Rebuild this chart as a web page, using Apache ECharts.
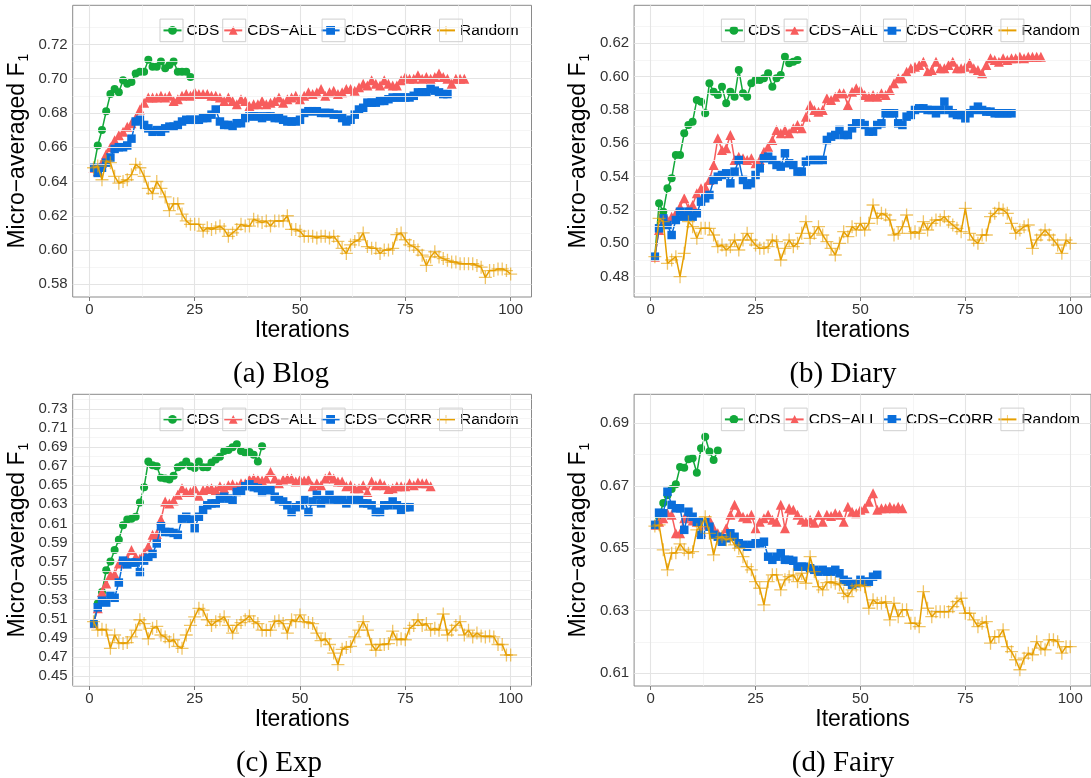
<!DOCTYPE html>
<html>
<head>
<meta charset="utf-8">
<title>Micro-averaged F1 per iteration</title>
<script src="https://cdn.jsdelivr.net/npm/echarts@6/dist/echarts.min.js"></script>
<style>
html,body{margin:0;padding:0;background:#fff;}
#main{width:1091px;height:778px;}
</style>
</head>
<body>
<div id="main"></div>
<script>
// series names (legend uses the real minus sign)
var methodNames = ['CDS', 'CDS\u2212ALL', 'CDS\u2212CORR', 'Random'];

// x axis ticks, shared by all panels
var iterTicks = [0, 25, 50, 75, 100];
var iterMinor = [12.5, 37.5, 62.5, 87.5];

// y axis ticks per panel
var blogTicks  = [0.58, 0.60, 0.62, 0.64, 0.66, 0.68, 0.70, 0.72];
var blogMinor  = [0.59, 0.61, 0.63, 0.65, 0.67, 0.69, 0.71, 0.73];
var diaryTicks = [0.48, 0.50, 0.52, 0.54, 0.56, 0.58, 0.60, 0.62];
var diaryMinor = [0.47, 0.49, 0.51, 0.53, 0.55, 0.57, 0.59, 0.61, 0.63];
var expTicks   = [0.45, 0.47, 0.49, 0.51, 0.53, 0.55, 0.57, 0.59, 0.61, 0.63, 0.65, 0.67, 0.69, 0.71, 0.73];
var expMinor   = [0.44, 0.46, 0.48, 0.50, 0.52, 0.54, 0.56, 0.58, 0.60, 0.62, 0.64, 0.66, 0.68, 0.70, 0.72, 0.74];
var fairyTicks = [0.61, 0.63, 0.65, 0.67, 0.69];
var fairyMinor = [0.62, 0.64, 0.66, 0.68];

// (a) Blog -- values from iteration 1
var blogCDS = [0.648,0.661,0.670,0.681,0.691,0.694,0.692,0.699,0.697,0.698,0.703,0.704,0.704,0.711,0.707,0.707,0.710,0.706,0.708,0.710,0.704,0.704,0.704,0.701];
var blogALL = [0.648,0.646,0.651,0.656,0.660,0.664,0.667,0.669,0.672,0.674,
	0.677,0.682,0.686,0.689,0.689,0.689,0.690,0.689,0.690,0.687,
	0.688,0.690,0.691,0.690,0.692,0.691,0.691,0.691,0.690,0.690,
	0.689,0.687,0.689,0.687,0.685,0.688,0.687,0.684,0.685,0.685,
	0.687,0.685,0.686,0.687,0.689,0.686,0.688,0.689,0.690,0.688,
	0.690,0.692,0.691,0.692,0.694,0.690,0.692,0.693,0.691,0.692,
	0.694,0.694,0.693,0.695,0.697,0.696,0.699,0.697,0.696,0.699,
	0.697,0.696,0.696,0.699,0.701,0.700,0.700,0.702,0.700,0.701,
	0.700,0.701,0.703,0.701,0.700,0.697,0.700,0.700,0.700];
var blogCORR = [0.648,0.645,0.648,0.651,0.654,0.659,0.660,0.660,0.661,0.665,
	0.675,0.676,0.673,0.671,0.669,0.670,0.669,0.671,0.672,0.672,
	0.673,0.675,0.676,0.676,0.676,0.676,0.677,0.677,0.679,0.682,
	0.675,0.673,0.673,0.672,0.674,0.674,0.677,0.678,0.678,0.678,
	0.677,0.678,0.678,0.677,0.677,0.676,0.675,0.675,0.675,0.676,
	0.680,0.681,0.681,0.681,0.680,0.680,0.680,0.679,0.679,0.677,
	0.675,0.676,0.679,0.682,0.683,0.686,0.686,0.686,0.687,0.687,
	0.688,0.689,0.689,0.689,0.689,0.689,0.690,0.692,0.692,0.692,
	0.694,0.693,0.692,0.691,0.691];
var blogRandom = [0.648,0.649,0.641,0.652,0.651,0.643,0.639,0.640,0.641,0.644,
	0.650,0.648,0.643,0.636,0.633,0.640,0.636,0.631,0.623,0.627,
	0.627,0.621,0.617,0.615,0.615,0.615,0.611,0.613,0.612,0.613,
	0.614,0.612,0.608,0.610,0.612,0.615,0.614,0.614,0.618,0.617,
	0.616,0.617,0.614,0.617,0.617,0.617,0.620,0.612,0.612,0.611,
	0.608,0.608,0.608,0.607,0.608,0.608,0.607,0.608,0.605,0.601,
	0.598,0.603,0.605,0.606,0.610,0.602,0.601,0.601,0.598,0.600,
	0.600,0.601,0.609,0.610,0.606,0.603,0.602,0.600,0.597,0.591,
	0.596,0.599,0.596,0.595,0.594,0.593,0.593,0.592,0.592,0.592,
	0.592,0.591,0.590,0.584,0.588,0.588,0.589,0.589,0.588,0.586];

// (b) Diary
var diaryCDS = [0.492,0.524,0.519,0.533,0.539,0.553,0.553,0.566,0.571,0.573,
	0.586,0.585,0.578,0.596,0.591,0.589,0.594,0.584,0.591,0.588,
	0.604,0.590,0.588,0.596,0.598,0.598,0.599,0.602,0.594,0.599,
	0.601,0.612,0.608,0.609,0.610];
var diaryALL = [0.492,0.508,0.513,0.514,0.516,0.518,0.522,0.527,0.521,0.523,
	0.530,0.533,0.534,0.538,0.547,0.563,0.556,0.557,0.565,0.550,
	0.552,0.551,0.550,0.551,0.548,0.550,0.555,0.558,0.562,0.568,
	0.566,0.568,0.566,0.569,0.571,0.569,0.576,0.583,0.580,0.579,
	0.580,0.587,0.586,0.588,0.590,0.590,0.583,0.591,0.593,0.592,
	0.589,0.588,0.589,0.588,0.590,0.589,0.592,0.596,0.599,0.599,
	0.603,0.605,0.606,0.607,0.609,0.603,0.604,0.609,0.605,0.605,
	0.607,0.609,0.605,0.605,0.606,0.608,0.605,0.604,0.602,0.607,
	0.611,0.610,0.609,0.611,0.610,0.611,0.611,0.612,0.611,0.612,
	0.612,0.612,0.612];
var diaryCORR = [0.492,0.509,0.515,0.511,0.505,0.514,0.519,0.516,0.519,0.516,
	0.518,0.525,0.527,0.529,0.538,0.540,0.541,0.542,0.536,0.543,
	0.550,0.538,0.535,0.536,0.541,0.545,0.551,0.552,0.550,0.547,
	0.546,0.554,0.548,0.547,0.543,0.543,0.549,0.550,0.550,0.550,
	0.550,0.562,0.564,0.565,0.568,0.565,0.565,0.569,0.572,0.572,
	0.571,0.567,0.567,0.571,0.572,0.578,0.578,0.578,0.572,0.571,
	0.576,0.577,0.580,0.581,0.581,0.580,0.580,0.578,0.580,0.585,
	0.580,0.578,0.577,0.577,0.575,0.578,0.580,0.582,0.580,0.579,
	0.579,0.578,0.578,0.578,0.578,0.578];
var diaryRandom = [0.492,0.515,0.513,0.488,0.490,0.492,0.480,0.494,0.513,0.510,
	0.503,0.509,0.509,0.509,0.505,0.498,0.499,0.496,0.498,0.502,
	0.496,0.502,0.506,0.502,0.499,0.497,0.497,0.498,0.502,0.501,
	0.490,0.497,0.502,0.498,0.500,0.506,0.513,0.503,0.506,0.510,
	0.505,0.501,0.497,0.493,0.500,0.507,0.504,0.510,0.508,0.512,
	0.508,0.512,0.523,0.515,0.518,0.517,0.514,0.505,0.506,0.510,
	0.517,0.506,0.507,0.506,0.513,0.508,0.512,0.514,0.514,0.516,
	0.513,0.511,0.509,0.507,0.521,0.506,0.502,0.500,0.505,0.505,
	0.516,0.518,0.521,0.520,0.518,0.512,0.506,0.508,0.510,0.511,
	0.497,0.502,0.505,0.508,0.505,0.502,0.499,0.494,0.502,0.500];

// (c) Exp
var expCDS = [0.505,0.526,0.538,0.561,0.570,0.582,0.593,0.608,0.614,0.615,
	0.617,0.632,0.648,0.675,0.671,0.670,0.658,0.657,0.656,0.660,
	0.669,0.671,0.675,0.670,0.668,0.675,0.669,0.669,0.674,0.677,
	0.680,0.686,0.687,0.690,0.693,0.686,0.684,0.685,0.682,0.675,
	0.691];
var expALL = [0.505,0.521,0.538,0.547,0.556,0.557,0.568,0.570,0.573,0.582,
	0.575,0.573,0.579,0.586,0.598,0.599,0.614,0.633,0.631,0.634,
	0.640,0.647,0.643,0.643,0.647,0.639,0.645,0.646,0.647,0.645,
	0.649,0.647,0.650,0.651,0.649,0.652,0.652,0.656,0.657,0.656,
	0.655,0.657,0.664,0.657,0.652,0.656,0.657,0.657,0.654,0.656,
	0.655,0.656,0.649,0.652,0.650,0.657,0.660,0.657,0.654,0.654,
	0.649,0.650,0.647,0.647,0.650,0.643,0.654,0.650,0.652,0.650,
	0.646,0.647,0.649,0.649,0.649,0.652,0.650,0.653,0.652,0.652,
	0.649];
var expCORR = [0.505,0.522,0.529,0.527,0.534,0.532,0.548,0.571,0.567,0.569,
	0.569,0.559,0.571,0.574,0.578,0.589,0.607,0.601,0.601,0.600,
	0.598,0.615,0.617,0.614,0.605,0.617,0.624,0.629,0.631,0.631,
	0.636,0.638,0.636,0.634,0.643,0.644,0.649,0.651,0.648,0.647,
	0.643,0.645,0.645,0.638,0.635,0.633,0.629,0.622,0.627,0.629,
	0.635,0.622,0.633,0.640,0.631,0.635,0.640,0.635,0.635,0.635,
	0.631,0.635,0.635,0.635,0.631,0.631,0.629,0.622,0.622,0.629,
	0.629,0.633,0.629,0.624,0.627,0.627];
var expRandom = [0.507,0.498,0.499,0.498,0.479,0.493,0.485,0.484,0.485,0.491,
	0.498,0.509,0.505,0.489,0.500,0.502,0.493,0.491,0.486,0.488,
	0.481,0.479,0.493,0.503,0.512,0.521,0.519,0.509,0.503,0.507,
	0.509,0.512,0.503,0.495,0.503,0.506,0.509,0.513,0.507,0.505,
	0.498,0.498,0.498,0.507,0.508,0.505,0.495,0.509,0.507,0.514,
	0.507,0.506,0.505,0.495,0.487,0.489,0.483,0.474,0.462,0.478,
	0.480,0.481,0.491,0.498,0.507,0.498,0.483,0.477,0.483,0.483,
	0.484,0.497,0.488,0.489,0.488,0.500,0.503,0.509,0.503,0.505,
	0.498,0.500,0.498,0.515,0.493,0.498,0.503,0.507,0.493,0.498,
	0.491,0.495,0.492,0.491,0.492,0.491,0.483,0.483,0.472,0.472];

// (d) Fairy
var fairyCDS = [0.6575,0.6600,0.6645,0.6670,0.6690,0.6705,0.6760,0.6758,0.6785,0.6788,
	0.6742,0.6820,0.6857,0.6810,0.6783,0.6813];
var fairyALL = [0.6575,0.6585,0.6596,0.6612,0.6607,0.6548,0.6548,0.6596,0.6601,0.6589,
	0.6585,0.6553,0.6575,0.6591,0.6564,0.6548,0.6537,0.6564,0.6607,0.6639,
	0.6612,0.6601,0.6596,0.6607,0.6564,0.6585,0.6596,0.6607,0.6591,0.6585,
	0.6639,0.6564,0.6628,0.6623,0.6607,0.6591,0.6585,0.6591,0.6582,0.6607,
	0.6585,0.6607,0.6603,0.6612,0.6607,0.6585,0.6633,0.6617,0.6612,0.6623,
	0.6628,0.6649,0.6676,0.6623,0.6628,0.6628,0.6633,0.6628,0.6633,0.6628];
var fairyCORR = [0.6575,0.6614,0.6612,0.6681,0.6639,0.6628,0.6628,0.6559,0.6617,0.6601,
	0.6585,0.6543,0.6585,0.6569,0.6543,0.6537,0.6521,0.6532,0.6548,0.6537,
	0.6516,0.6511,0.6505,0.6511,0.6516,0.6516,0.6521,0.6473,0.6463,0.6473,
	0.6484,0.6463,0.6463,0.6460,0.6441,0.6441,0.6441,0.6436,0.6431,0.6425,
	0.6431,0.6425,0.6425,0.6431,0.6420,0.6399,0.6393,0.6383,0.6388,0.6399,
	0.6393,0.6393,0.6409,0.6415];
var fairyRandom = [0.6571,0.6575,0.6495,0.6431,0.6484,0.6486,0.6514,0.6495,0.6484,0.6489,
	0.6559,0.6569,0.6601,0.6548,0.6479,0.6532,0.6537,0.6527,0.6532,0.6511,
	0.6500,0.6473,0.6441,0.6431,0.6393,0.6372,0.6319,0.6393,0.6415,0.6415,
	0.6367,0.6399,0.6409,0.6415,0.6393,0.6420,0.6388,0.6473,0.6425,0.6377,
	0.6367,0.6390,0.6393,0.6388,0.6383,0.6356,0.6345,0.6367,0.6380,0.6383,
	0.6377,0.6308,0.6335,0.6324,0.6324,0.6329,0.6271,0.6324,0.6281,0.6303,
	0.6303,0.6260,0.6260,0.6249,0.6361,0.6308,0.6281,0.6297,0.6297,0.6297,
	0.6297,0.6313,0.6329,0.6340,0.6292,0.6292,0.6271,0.6249,0.6260,0.6265,
	0.6196,0.6217,0.6217,0.6239,0.6185,0.6169,0.6143,0.6111,0.6148,0.6164,
	0.6159,0.6201,0.6180,0.6175,0.6207,0.6207,0.6201,0.6164,0.6185,0.6185];

// layout of the four panels (pixel boxes of the plotting area)
var panels = [
	{caption:'(a) Blog',  series:[blogCDS, blogALL, blogCORR, blogRandom],     ticks:blogTicks,  minor:blogMinor,  yMin:0.5726, yMax:0.7428, left:72.7,  top:5.3,   capX:281, capY:374},
	{caption:'(b) Diary', series:[diaryCDS, diaryALL, diaryCORR, diaryRandom], ticks:diaryTicks, minor:diaryMinor, yMin:0.4678, yMax:0.6428, left:634.1, top:5.3,   capX:843, capY:374},
	{caption:'(c) Exp',   series:[expCDS, expALL, expCORR, expRandom],         ticks:expTicks,   minor:expMinor,   yMin:0.4395, yMax:0.7454, left:72.7,  top:394.3, capX:279, capY:763},
	{caption:'(d) Fairy', series:[fairyCDS, fairyALL, fairyCORR, fairyRandom], ticks:fairyTicks, minor:fairyMinor, yMin:0.6059, yMax:0.6993, left:634.1, top:394.3, capX:843, capY:763}
];
var panelW = 458.8, panelH = 291.7;
var xMin = -3.95, xMax = 104.95;

var colors = ['#12a83a', '#f75d5d', '#0a6edb', '#e69f00'];
var plusPath = 'path://M5.4,0 L6.6,0 L6.6,5.4 L12,5.4 L12,6.6 L6.6,6.6 L6.6,12 L5.4,12 L5.4,6.6 L0,6.6 L0,5.4 L5.4,5.4 Z';
var symbols = ['circle', 'triangle', 'rect', plusPath];
var symbolSizes = [8, 10, 8.5, 13];
var sans = "'Liberation Sans', Arial, Helvetica, sans-serif";

// legend metrics (legItemExtra: what echarts adds per item beyond icon + 5 + text + gap)
var legFont = 15.5, legIconW = 18, legGap = 4, legPadL = 12, legItemExtra = 3;

function toPoints(vals)
{
	var pts = [];
	for (var i = 0; i < vals.length; i++) {
		pts.push([i + 1, vals[i]]);
	}
	return pts;
}

// ggplot style grid lines, drawn as mark lines so they sit exactly on the tick values
function gridLineItems(p)
{
	var items = [];
	var major = {color:'#e4e4e4', width:1.1, type:'solid'};
	var minor = {color:'#f2f2f2', width:0.8, type:'solid'};
	iterMinor.forEach(function(v){ items.push({xAxis:v, lineStyle:minor}); });
	p.minor.forEach(function(v){ if (v > p.yMin && v < p.yMax) items.push({yAxis:v, lineStyle:minor}); });
	iterTicks.forEach(function(v){ items.push({xAxis:v, lineStyle:major}); });
	p.ticks.forEach(function(v){ items.push({yAxis:v, lineStyle:major}); });
	return items;
}

// text widths, to put a grey key box round every legend icon
var measureCtx = document.createElement('canvas').getContext('2d');
measureCtx.font = legFont + 'px ' + sans;
function keyBoxes(x0, yc)
{
	var boxes = [];
	var x = x0;
	for (var i = 0; i < methodNames.length; i++) {
		boxes.push({
			type: 'rect', z: 100, silent: true,
			shape: {x: x - 2.5, y: yc - 11.3, width: 23, height: 22.6},
			style: {fill: 'none', stroke: '#cfcfcf', lineWidth: 1}
		});
		x += legIconW + 5 + measureCtx.measureText(methodNames[i]).width + legGap + legItemExtra;
	}
	return boxes;
}

var grids = [], xAxes = [], yAxes = [], series = [], legends = [], graphics = [];

for (var k = 0; k < panels.length; k++) {
	var p = panels[k];
	grids.push({
		left: p.left, top: p.top, width: panelW, height: panelH,
		show: true, borderColor: '#8a8a8a', borderWidth: 1, backgroundColor: '#fff'
	});
	xAxes.push({
		type: 'value', gridIndex: k, min: xMin, max: xMax,
		axisLine: {show: false},
		axisTick: {show: true, length: 4, customValues: iterTicks, lineStyle: {color: '#7a7a7a'}},
		axisLabel: {customValues: iterTicks, fontSize: 15, color: '#333', fontFamily: sans, margin: 5},
		splitLine: {show: false},
		name: 'Iterations', nameLocation: 'middle', nameGap: 22,
		nameTextStyle: {fontSize: 23, color: '#000', fontFamily: sans}
	});
	yAxes.push({
		type: 'value', gridIndex: k, min: p.yMin, max: p.yMax,
		axisLine: {show: false},
		axisTick: {show: true, length: 4, customValues: p.ticks, lineStyle: {color: '#7a7a7a'}},
		axisLabel: {customValues: p.ticks, fontSize: 15, color: '#333', fontFamily: sans, margin: 5,
			formatter: function(v){ return v.toFixed(2); }},
		splitLine: {show: false},
		name: 'Micro\u2212averaged F{sub|1}', nameLocation: 'middle', nameGap: 42, nameRotate: 90,
		nameTextStyle: {fontSize: 23, color: '#000', fontFamily: sans,
			rich: {sub: {fontSize: 14, fontFamily: sans, color: '#000', padding: [12, 0, 0, 1]}}}
	});

	// grid lines first so the data sits on top
	series.push({
		type: 'line', xAxisIndex: k, yAxisIndex: k, data: [], silent: true, z: 1,
		markLine: {silent: true, symbol: ['none', 'none'], label: {show: false}, animation: false,
			emphasis: {disabled: true}, data: gridLineItems(p)}
	});

	for (var s = 0; s < 4; s++) {
		series.push({
			name: methodNames[s], type: 'line', xAxisIndex: k, yAxisIndex: k,
			data: toPoints(p.series[s]),
			symbol: symbols[s], symbolSize: symbolSizes[s], symbolKeepAspect: true,
			showAllSymbol: true, z: 2 + s,
			color: colors[s],
			lineStyle: {width: 1.5, color: colors[s]},
			itemStyle: {color: colors[s], opacity: s == 3 ? 0.6 : 1}
		});
	}

	// legend in the top right corner of the panel
	var legLeft = p.left + 77.8;
	var legMid = p.top + 25.1;
	legends.push({
		data: methodNames, selectedMode: false,
		left: legLeft, top: legMid - 15, width: 400,
		itemWidth: legIconW, itemHeight: 11, itemGap: legGap,
		padding: [4, 8, 4, legPadL], backgroundColor: '#fff',
		textStyle: {fontSize: legFont, color: '#000', fontFamily: sans, lineHeight: 22}
	});
	graphics = graphics.concat(keyBoxes(legLeft + legPadL, legMid));

	graphics.push({
		type: 'text', x: p.capX, y: p.capY,
		style: {text: p.caption, fontSize: 29, fontFamily: "'Liberation Serif', 'Times New Roman', serif",
			fill: '#000', align: 'center', verticalAlign: 'middle'}
	});
}

var myChart = echarts.init(document.getElementById('main'), null, {renderer: 'canvas'});
var option = {
	animation: false,
	backgroundColor: '#fff',
	grid: grids,
	xAxis: xAxes,
	yAxis: yAxes,
	legend: legends,
	series: series,
	graphic: graphics
};
myChart.setOption(option);
window.onresize = myChart.resize;
</script>
</body>
</html>
